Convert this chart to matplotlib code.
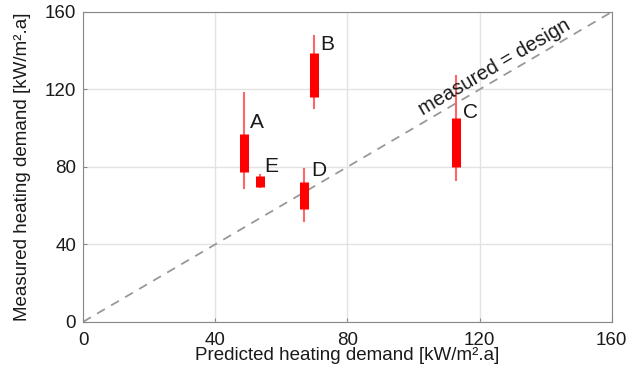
import matplotlib.pyplot as plt

plt.rcParams['font.family'] = ['Liberation Sans', 'DejaVu Sans']

# buildings, predicted demand and measured spread
names = ['A', 'B', 'C', 'D', 'E']
predicted = [48.6, 69.8, 113.0, 66.8, 53.6]
whisk_lo = [69.3, 110.3, 73.3, 52.1, 69.8]
whisk_hi = [118.0, 147.6, 127.0, 78.8, 75.6]
box_lo = [77.3, 116.3, 80.2, 58.2, 69.8]
box_hi = [96.9, 138.7, 105.1, 72.1, 75.4]
label_x = [52.5, 73.8, 117.3, 71.3, 57.0]
label_y = [103.0, 143.0, 108.0, 78.0, 80.0]

ticks = [0, 40, 80, 120, 160]

fig = plt.figure(figsize=(6.34, 3.85), dpi=100)
ax = fig.add_axes([0.131, 0.164, 0.834, 0.805])

# 1:1 line
ax.plot([0, 160], [0, 160], ls=(0, (5, 4)), color='#999999', lw=1.3, zorder=1)
ax.text(124.5, 131.5, 'measured = design', rotation=30.4, ha='center', va='center',
        fontsize=14.5, color='#1a1a1a')

for i in range(len(names)):
    ax.plot([predicted[i], predicted[i]], [whisk_lo[i], whisk_hi[i]],
            color='#ff6666', lw=1.5, zorder=2)
    ax.plot([predicted[i], predicted[i]], [box_lo[i], box_hi[i]],
            color='#ff0000', lw=6.5, solid_capstyle='butt', zorder=3)
    ax.text(label_x[i], label_y[i], names[i], fontsize=15, color='#1a1a1a',
            ha='center', va='center')

ax.set_xlim(0, 160)
ax.set_ylim(0, 160)
ax.set_xticks(ticks)
ax.set_yticks(ticks)
ax.grid(True, color='#e3e3e3', lw=1)
ax.set_axisbelow(True)
ax.tick_params(direction='in', length=3, labelsize=13.5, color='#888888',
               labelcolor='#1a1a1a')
ax.tick_params(axis='x', pad=7)
ax.tick_params(axis='y', pad=5)
for s in ax.spines.values():
    s.set_color('#888888')

ax.set_xlabel('Predicted heating demand [kW/m\u00b2.a]', fontsize=13.5,
              color='#1a1a1a', labelpad=-1)
ax.set_ylabel('Measured heating demand [kW/m\u00b2.a]', fontsize=13.5,
              color='#1a1a1a', labelpad=10)

plt.savefig('out.png', dpi=100)
